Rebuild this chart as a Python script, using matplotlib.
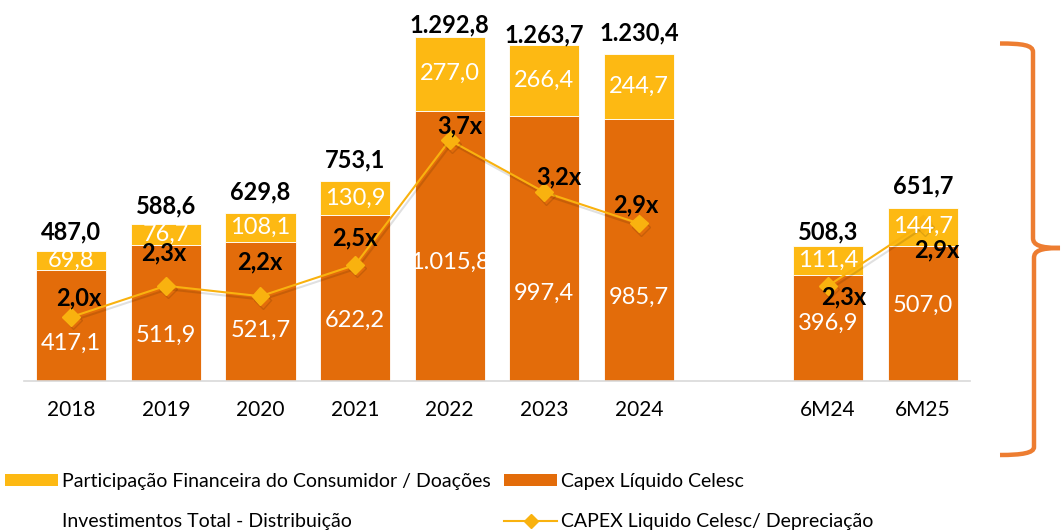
import matplotlib
matplotlib.use("Agg")
import matplotlib.pyplot as plt
import matplotlib.patheffects as pe
from matplotlib.patches import Patch, PathPatch
from matplotlib.lines import Line2D
from matplotlib.path import Path

plt.rcParams['font.family'] = ['Lato', 'DejaVu Sans']

# dados
categorias = ['2018', '2019', '2020', '2021', '2022', '2023', '2024', '6M24', '6M25']
capex_liquido = [417.1, 511.9, 521.7, 622.2, 1015.8, 997.4, 985.7, 396.9, 507.0]
participacao = [69.8, 76.7, 108.1, 130.9, 277.0, 266.4, 244.7, 111.4, 144.7]
investimento_total = [487.0, 588.6, 629.8, 753.1, 1292.8, 1263.7, 1230.4, 508.3, 651.7]
capex_depreciacao = [2.0, 2.3, 2.2, 2.5, 3.7, 3.2, 2.9, 2.3, 2.9]

def br(v, nd=1):
    s = f"{v:,.{nd}f}"
    return s.replace(',', 'X').replace('.', ',').replace('X', '.')

# layout
x = list(range(7)) + [8, 9]
laranja = '#E36C0A'
amarelo = '#FDB913'
linha_cor = '#F9B20F'
pos_lbl_capex = [143, 173, 192, 229, 447, 331, 316, 218, 286]
dy_total = [19, 18, 21, 21, 12, 10, 21, 14, 22]
off_ratio = [(8, 19), (-2, 33), (-1, 34), (0, 27), (10, 14), (15, 15), (-3, 18), (16, -11), (14, -27)]

fig = plt.figure(figsize=(10.61, 5.31), dpi=100)
ax = fig.add_axes([24 / 1061, 150 / 531, 946 / 1061, 346 / 531])

ax.bar(x, capex_liquido, width=0.74, color=laranja, edgecolor='white', linewidth=0.6)
ax.bar(x, participacao, width=0.74, bottom=capex_liquido, color=amarelo,
       edgecolor='white', linewidth=0.6)
ax.set_xlim(-0.5, 9.5)
ax.set_ylim(0, 1300)
ax.set_yticks([])
for s in ['top', 'right', 'left']:
    ax.spines[s].set_visible(False)
ax.spines['bottom'].set_color('#D9D9D9')
ax.spines['bottom'].set_linewidth(1.2)
ax.set_xticks(x)
ax.set_xticklabels(categorias, fontsize=15)
ax.tick_params(axis='x', length=0, pad=14)

ax2 = ax.twinx()
ax2.set_ylim(2.0 - 64 / 104, 2.0 + 282 / 104)
ax2.set_yticks([])
for s in ax2.spines.values():
    s.set_visible(False)
sombra = [pe.SimpleLineShadow(offset=(1.5, -2.5), alpha=0.12, shadow_color='black'), pe.Normal()]
# anos e semestres em trechos separados
ax2.plot(x[:7], capex_depreciacao[:7], color=linha_cor, lw=1.5, marker='D', ms=9,
         path_effects=sombra)
ax2.plot(x[7:], capex_depreciacao[7:], color=linha_cor, lw=1.5, marker='D', ms=9,
         path_effects=sombra)

for i in range(len(x)):
    # rótulos das barras
    ax2.text(x[i], pos_lbl_capex[i], br(capex_liquido[i]), transform=ax.transData,
             ha='center', va='center', color='white', fontsize=17)
    ax2.text(x[i], capex_liquido[i] + participacao[i] / 2, br(participacao[i]),
             transform=ax.transData, ha='center', va='center', color='white', fontsize=17)
    ax2.annotate(br(investimento_total[i]), (x[i], capex_liquido[i] + participacao[i]),
                 xycoords=ax.transData, xytext=(0, dy_total[i]), textcoords='offset pixels',
                 ha='center', va='center', fontsize=17, fontweight='bold', color='black')
    ax2.annotate(br(capex_depreciacao[i]) + 'x', (x[i], capex_depreciacao[i]),
                 xytext=off_ratio[i], textcoords='offset pixels',
                 ha='center', va='center', fontsize=17, fontweight='bold', color='black')

# legenda
h_amarelo = Patch(facecolor=amarelo)
h_vazio = Patch(facecolor='none', edgecolor='none')
h_laranja = Patch(facecolor=laranja)
h_linha = Line2D([], [], color=linha_cor, lw=1.5, marker='D', ms=7)
leg_kw = dict(frameon=False, fontsize=14, handlelength=2.75, handleheight=0.55,
              handletextpad=0.2, labelspacing=1.2, borderpad=0, borderaxespad=0)
fig.legend([h_amarelo, h_vazio], ['Participação Financeira do Consumidor / Doações',
                                  'Investimentos Total - Distribuição'],
           loc='upper left', bbox_to_anchor=(5 / 1061, 1 - 473 / 531), **leg_kw)
fig.legend([h_laranja, h_linha], ['Capex Líquido Celesc', 'CAPEX Liquido Celesc/ Depreciação'],
           loc='upper left', bbox_to_anchor=(504 / 1061, 1 - 473 / 531), **leg_kw)

# chave à direita
ov = fig.add_axes([0, 0, 1, 1], facecolor='none')
ov.set_xlim(0, 1061)
ov.set_ylim(531, 0)
ov.axis('off')
verts = [(1000, 43.5), (1022, 43.5), (1033, 45), (1033, 52),
         (1033, 238),
         (1033, 245), (1040, 248), (1060, 248),
         (1040, 248), (1034, 251), (1034, 258),
         (1034, 447),
         (1034, 453), (1022, 455), (1000, 455)]
codes = [Path.MOVETO, Path.CURVE4, Path.CURVE4, Path.CURVE4,
         Path.LINETO,
         Path.CURVE4, Path.CURVE4, Path.CURVE4,
         Path.CURVE4, Path.CURVE4, Path.CURVE4,
         Path.LINETO,
         Path.CURVE4, Path.CURVE4, Path.CURVE4]
ov.add_patch(PathPatch(Path(verts, codes), facecolor='none', edgecolor='#ED7D31', lw=3.2))

fig.savefig('out.png', dpi=100)
